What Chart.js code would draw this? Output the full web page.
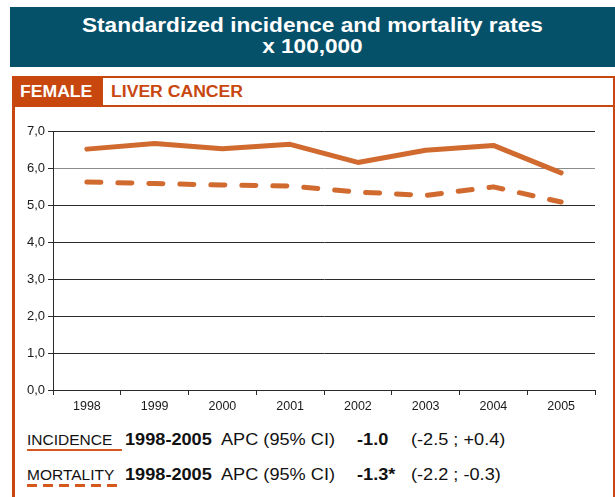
<!DOCTYPE html>
<html>
<head>
<meta charset="utf-8">
<script src="https://cdn.jsdelivr.net/npm/chart.js@4.4.1/dist/chart.umd.min.js"></script>
<style>
    body { margin: 0; width: 615px; height: 497px; overflow: hidden; background: #fff; position: relative;
           font-family: "Liberation Sans", Arial, Helvetica, sans-serif; }
    .abs { position: absolute; white-space: nowrap; line-height: 1; }
    .wide { transform: scaleX(1.1); transform-origin: left top; }
    #header { position: absolute; left: 10px; top: 7px; width: 605px; height: 60px; background: #06516a; }
    .title { position: absolute; left: 10px; width: 605px; text-align: center; color: #fff; font-weight: bold;
             font-size: 20px; line-height: 1; transform: scaleX(1.13); transform-origin: 303px 0; }
    #panel { position: absolute; left: 12px; top: 76px; width: 598px; height: 440px;
             border-top: 2px solid #c8470f; border-left: 3px solid #c8470f; border-right: 2px solid #c8470f; }
    #tab { position: absolute; left: 12px; top: 76px; width: 91px; height: 30px; background: #c8470f; }
    #rowline { position: absolute; left: 12px; top: 105px; width: 603px; height: 2px; background: #c8470f; }
    #chart-box { position: absolute; left: 0; top: 110px; width: 615px; height: 310px; }
    .lbl { font-size: 16.5px; color: #111; }
    .b { font-weight: bold; }
    .key { font-size: 15.5px; color: #111; }
</style>
</head>
<body>
<div id="header"></div>
<div class="title" style="top:15px">Standardized incidence and mortality rates</div>
<div class="title" style="top:36px">x 100,000</div>

<div id="panel"></div>
<div id="tab"></div>
<div id="rowline"></div>
<div class="abs wide b" style="left:20px; top:84px; font-size:16px; color:#fff">FEMALE</div>
<div class="abs wide b" style="left:111px; top:84px; font-size:16px; color:#c8470f">LIVER CANCER</div>

<div id="chart-box"><canvas id="rateChart" width="615" height="310"></canvas></div>

<!-- legend / APC rows -->
<div class="abs key" style="left:27px; top:432px">INCIDENCE</div>
<div class="abs" style="left:27px; top:449px; width:95px; height:2px; background:#d4581f"></div>
<div class="abs wide lbl b" style="left:125px; top:431px">1998-2005</div>
<div class="abs wide lbl" style="left:221px; top:431px">APC (95% CI)</div>
<div class="abs wide lbl b" style="left:357px; top:431px">-1.0</div>
<div class="abs wide lbl" style="left:411px; top:431px">(-2.5 ; +0.4)</div>

<div class="abs key" style="left:27px; top:467px">MORTALITY</div>
<div class="abs" style="left:27px; top:484px; width:96px; height:2.5px;
     background: repeating-linear-gradient(to right, #d4581f 0 10px, transparent 10px 16px)"></div>
<div class="abs wide lbl b" style="left:125px; top:466px">1998-2005</div>
<div class="abs wide lbl" style="left:221px; top:466px">APC (95% CI)</div>
<div class="abs wide lbl b" style="left:357px; top:466px">-1.3*</div>
<div class="abs wide lbl" style="left:411px; top:466px">(-2.2 ; -0.3)</div>

<script>
// --- Data ---
const years = ['1998', '1999', '2000', '2001', '2002', '2003', '2004', '2005'];
const incidence = [6.51, 6.66, 6.52, 6.64, 6.15, 6.48, 6.61, 5.87];
const mortality = [5.62, 5.58, 5.54, 5.51, 5.35, 5.26, 5.49, 5.08];
const yMin = 0;
const yMax = 7;
const yStep = 1;

const lineColor = '#d06a2e';
const axisColor = '#2a2a2a';

const ctx = document.getElementById('rateChart').getContext('2d');
new Chart(ctx, {
    type: 'line',
    data: {
        labels: years,
        datasets: [
            {
                label: 'Incidence',
                data: incidence,
                borderColor: lineColor,
                borderWidth: 5,
                borderCapStyle: 'round',
                borderJoinStyle: 'round',
                pointRadius: 0,
                tension: 0,
                fill: false
            },
            {
                label: 'Mortality',
                data: mortality,
                borderColor: lineColor,
                borderWidth: 5,
                borderDash: [14, 17],
                borderCapStyle: 'round',
                borderJoinStyle: 'round',
                pointRadius: 0,
                tension: 0,
                fill: false
            }
        ]
    },
    options: {
        responsive: false,
        maintainAspectRatio: false,
        devicePixelRatio: 1,
        animation: false,
        layout: { padding: { left: 0, right: 20, top: 21, bottom: 0 } },
        scales: {
            x: {
                type: 'category',
                offset: true,
                grid: {
                    offset: true,
                    drawOnChartArea: false,
                    drawTicks: true,
                    tickLength: 5,
                    color: axisColor
                },
                border: { display: true, color: axisColor, width: 1 },
                ticks: {
                    color: '#1a1a1a',
                    font: { family: '"Liberation Sans", Arial, sans-serif', size: 12.5 },
                    padding: 4,
                    maxRotation: 0
                },
                afterFit: (scale) => { scale.height = 30; }
            },
            y: {
                min: yMin,
                max: yMax,
                ticks: {
                    stepSize: yStep,
                    color: '#1a1a1a',
                    font: { family: '"Liberation Sans", Arial, sans-serif', size: 13 },
                    padding: 3,
                    callback: (v) => v.toFixed(1).replace('.', ',')
                },
                grid: {
                    color: (c) => (c.tick && c.tick.value === 6 ? '#8c8c8c' : axisColor),
                    tickColor: axisColor,
                    lineWidth: 1,
                    drawTicks: true,
                    tickLength: 5
                },
                border: { display: true, color: axisColor, width: 1 },
                afterFit: (scale) => { scale.width = 53; }
            }
        },
        plugins: {
            legend: { display: false },
            tooltip: { enabled: false },
            title: { display: false }
        }
    }
});
</script>
</body>
</html>
